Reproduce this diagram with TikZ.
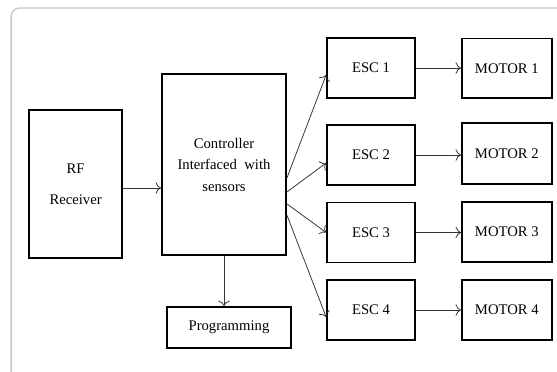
\documentclass[tikz,border=0pt]{standalone}
\usepackage{fontspec}
\setmainfont{Liberation Serif}
\usepackage{tikz}
\usetikzlibrary{positioning,calc,arrows.meta}
\usepackage{xcolor}
\definecolor{framegray}{RGB}{200,200,200}

\begin{document}
\begin{tikzpicture}[
    block/.style={draw=black, line width=1.2pt, align=center, inner sep=2pt,
        font=\fontsize{10.5pt}{15.4pt}\selectfont},
    arr/.style={-{To[scale=1.4]}, line width=0.55pt, black!80}
]
    \useasboundingbox (0,0) rectangle (14,9.35);
    % Outer frame
    \draw[framegray, line width=1pt, rounded corners=6pt] (0.28,-1) rectangle (15,9.15);

    % Receiver and controller
    \node[block, minimum width=2.34cm, minimum height=3.72cm] (rf) at (1.90,4.725)
        {RF\\[7pt]Receiver};
    \node[block, minimum width=3.12cm, minimum height=4.55cm] (ctrl) at (5.63,5.215)
        {Controller\\Interfaced~ with\\sensors};
    \node[block, minimum width=3.12cm, minimum height=1.03cm] (prog) at (5.755,1.12)
        {Programming};

    % ESCs
    \node[block, minimum width=2.21cm, minimum height=1.51cm] (esc1) at (9.325,7.64) {ESC 1};
    \node[block, minimum width=2.21cm, minimum height=1.51cm] (esc2) at (9.325,5.454) {ESC 2};
    \node[block, minimum width=2.21cm, minimum height=1.51cm] (esc3) at (9.325,3.506) {ESC 3};
    \node[block, minimum width=2.21cm, minimum height=1.51cm] (esc4) at (9.325,1.558) {ESC 4};

    % Motors
    \node[block, minimum width=2.26cm, minimum height=1.50cm] (mot1) at (12.74,7.63) {MOTOR 1};
    \node[block, minimum width=2.26cm, minimum height=1.52cm] (mot2) at (12.74,5.49) {MOTOR 2};
    \node[block, minimum width=2.26cm, minimum height=1.51cm] (mot3) at (12.74,3.52) {MOTOR 3};
    \node[block, minimum width=2.26cm, minimum height=1.51cm] (mot4) at (12.74,1.56) {MOTOR 4};

    % Connections
    \coordinate (rfout) at ([yshift=-0.1cm]rf.east);
    \draw[arr] (rfout) -- (rfout -| ctrl.west);
    \draw[arr] (ctrl.south) -- (ctrl.south |- prog.north);

    \draw[arr] ([yshift=-0.34cm]ctrl.east) -- ([yshift=-0.17cm]esc1.west);
    \draw[arr] ([yshift=-0.69cm]ctrl.east) -- ([yshift=-0.2cm]esc2.west);
    \draw[arr] ([yshift=-0.99cm]ctrl.east) -- (esc3.west);
    \draw[arr] ([yshift=-1.27cm]ctrl.east) -- ([yshift=-0.18cm]esc4.west);

    \draw[arr] (esc1.east) -- (esc1.east -| mot1.west);
    \draw[arr] (esc2.east) -- (esc2.east -| mot2.west);
    \draw[arr] (esc3.east) -- (esc3.east -| mot3.west);
    \draw[arr] (esc4.east) -- (esc4.east -| mot4.west);
\end{tikzpicture}
\end{document}
